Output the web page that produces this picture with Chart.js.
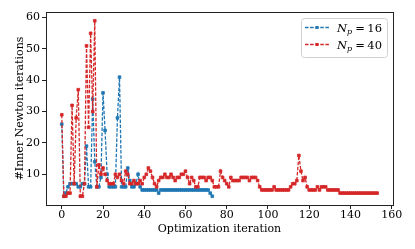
<!DOCTYPE html>
<html>
<head>
<meta charset="utf-8">
<script src="https://cdn.jsdelivr.net/npm/chart.js@4"></script>
<style>
  html, body { margin: 0; padding: 0; background: #fff; }
</style>
</head>
<body>
<canvas id="myChart" width="415" height="249"></canvas>
<script>
// inner Newton iterations per optimization iteration
var itersNp16 = [26, 3, 4, 6, 7, 7, 7, 7, 6, 6, 7, 7, 19, 6, 6, 34, 14, 6, 6, 9,
    36, 24, 10, 6, 6, 6, 6, 28, 41, 6, 6, 6, 12, 8, 6, 6, 7, 10, 6, 5,
    5, 5, 5, 5, 5, 5, 5, 4, 5, 5, 5, 5, 5, 5, 5, 5, 5, 5, 5, 5,
    5, 5, 5, 5, 5, 5, 5, 5, 5, 5, 5, 5, 4, 3];
var itersNp40 = [29, 3, 3, 4, 4, 32, 7, 28, 37, 3, 3, 7, 51, 25, 55, 30, 59, 6, 13, 10,
    12, 10, 8, 7, 7, 7, 10, 9, 10, 8, 7, 11, 10, 7, 7, 8, 7, 7, 8, 7,
    9, 10, 12, 11, 9, 7, 6, 8, 9, 9, 10, 9, 9, 10, 9, 8, 9, 9, 10, 10,
    11, 9, 7, 9, 8, 6, 6, 9, 9, 9, 8, 9, 9, 8, 6, 6, 6, 11, 9, 8,
    7, 6, 9, 8, 8, 8, 8, 9, 9, 9, 9, 8, 9, 9, 9, 8, 6, 5, 5, 5,
    5, 5, 5, 6, 5, 5, 5, 5, 5, 5, 5, 6, 7, 7, 8, 16, 11, 8, 9, 6,
    5, 5, 5, 5, 6, 5, 6, 6, 6, 5, 5, 5, 5, 5, 5, 4, 4, 4, 4, 4,
    4, 4, 4, 4, 4, 4, 4, 4, 4, 4, 4, 4, 4, 4];
var npValues = ['16', '40'];
var xTicks = [0, 20, 40, 60, 80, 100, 120, 140, 160];
var yTicks = [10, 20, 30, 40, 50, 60];

var blue = '#1f77b4';
var red = '#d62728';
var serif = "'DejaVu Serif', serif";

function toPoints(arr) {
    return arr.map(function (v, i) { return { x: i, y: v }; });
}

// matplotlib style frame on all four sides
var framePlugin = {
    id: 'frame',
    afterDraw: function (chart) {
        var a = chart.chartArea, ctx = chart.ctx;
        ctx.save();
        ctx.strokeStyle = '#222';
        ctx.lineWidth = 1;
        ctx.strokeRect(Math.round(a.left) + 0.5, Math.round(a.top) + 0.5,
            Math.round(a.right - a.left), Math.round(a.bottom - a.top));
        ctx.restore();
    }
};

// legend with subscript labels
var legendPlugin = {
    id: 'npLegend',
    afterDraw: function (chart) {
        var ctx = chart.ctx;
        var bx = 301, by = 18, bw = 86, bh = 39;
        ctx.save();
        ctx.beginPath();
        ctx.roundRect(bx + 0.5, by + 0.5, bw, bh, 3);
        ctx.fillStyle = 'rgba(255,255,255,0.85)';
        ctx.fill();
        ctx.strokeStyle = '#d0d0d0';
        ctx.lineWidth = 1;
        ctx.stroke();
        chart.data.datasets.forEach(function (ds, i) {
            var y = by + 9.5 + i * 17;
            ctx.strokeStyle = ds.borderColor;
            ctx.lineWidth = 1.3;
            ctx.setLineDash([3.5, 1.6]);
            ctx.beginPath();
            ctx.moveTo(305, y);
            ctx.lineTo(329, y);
            ctx.stroke();
            ctx.setLineDash([]);
            ctx.fillStyle = ds.borderColor;
            ctx.fillRect(315.5, y - 1.5, 3, 3);
            ctx.fillStyle = '#000';
            ctx.textBaseline = 'alphabetic';
            var tx = 337, base = y + 4;
            ctx.font = 'italic 11.5px ' + serif;
            ctx.fillText('N', tx, base);
            tx += ctx.measureText('N').width;
            ctx.font = 'italic 8px ' + serif;
            ctx.fillText('p', tx, base + 2.5);
            tx += ctx.measureText('p').width + 3;
            ctx.font = '11.5px ' + serif;
            ctx.fillText('=', tx, base);
            tx += ctx.measureText('=').width + 2.5;
            ctx.fillText(npValues[i], tx, base);
        });
        ctx.restore();
    }
};

var ctx = document.getElementById('myChart');
new Chart(ctx, {
    type: 'line',
    data: {
        datasets: [{
            label: 'N_p = ' + npValues[0],
            data: toPoints(itersNp16),
            borderColor: blue,
            backgroundColor: blue,
            borderWidth: 1.3,
            borderDash: [3.5, 1.6],
            pointStyle: 'rect',
            pointRadius: 1.9,
            pointBorderWidth: 0.8,
            fill: false,
            order: 1
        }, {
            label: 'N_p = ' + npValues[1],
            data: toPoints(itersNp40),
            borderColor: red,
            backgroundColor: red,
            borderWidth: 1.3,
            borderDash: [3.5, 1.6],
            pointStyle: 'rect',
            pointRadius: 1.9,
            pointBorderWidth: 0.8,
            fill: false,
            order: 0
        }]
    },
    options: {
        responsive: false,
        animation: false,
        devicePixelRatio: 1,
        layout: { padding: { left: 0, right: 22, top: 12, bottom: 0 } },
        plugins: {
            legend: { display: false },
            tooltip: { enabled: false }
        },
        scales: {
            x: {
                type: 'linear',
                min: -7.65,
                max: 160.65,
                afterBuildTicks: function (s) { s.ticks = xTicks.map(function (v) { return { value: v }; }); },
                afterFit: function (s) { s.height = 44; },
                grid: { drawOnChartArea: false, drawTicks: true, tickLength: 4, color: '#222' },
                border: { display: true, color: '#222' },
                ticks: { color: '#000', padding: 0, maxRotation: 0, font: { family: serif, size: 11 } },
                title: {
                    display: true, text: 'Optimization iteration', color: '#000',
                    font: { family: serif, size: 11 }, padding: { top: 0, bottom: 13 }
                }
            },
            y: {
                min: 0.2,
                max: 61.8,
                afterBuildTicks: function (s) { s.ticks = yTicks.map(function (v) { return { value: v }; }); },
                afterFit: function (s) { s.width = 46; },
                grid: { drawOnChartArea: false, drawTicks: true, tickLength: 4, color: '#222' },
                border: { display: true, color: '#222' },
                ticks: { color: '#000', padding: 2, font: { family: serif, size: 11 } },
                title: {
                    display: true, text: '#Inner Newton iterations', color: '#000',
                    font: { family: serif, size: 11 }, padding: { top: 14, bottom: 0 }
                }
            }
        }
    },
    plugins: [framePlugin, legendPlugin]
});
</script>
</body>
</html>
